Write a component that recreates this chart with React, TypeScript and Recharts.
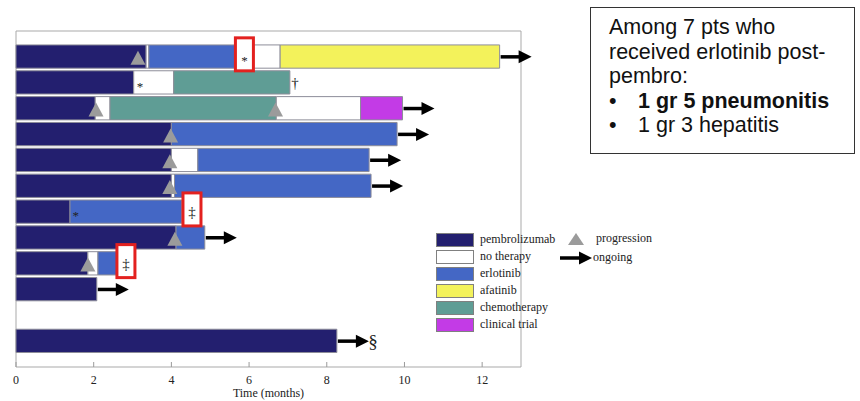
import React from 'react';
import {
  ComposedChart,
  Bar,
  Cell,
  Scatter,
  XAxis,
  YAxis,
  ReferenceArea
} from 'recharts';

// treatment categories and their colours
const treatments = ['pembrolizumab', 'no therapy', 'erlotinib', 'afatinib', 'chemotherapy', 'clinical trial'];
const treatmentColors = ['#231f6f', '#ffffff', '#4467c5', '#f3f25b', '#5f9d95', '#c33be6'];

// one entry per patient (row 11 is left empty)
const rows = [1, 2, 3, 4, 5, 6, 7, 8, 9, 10, 12];

// treatment phase sequence per patient (index into treatments)
const phaseTypes = [
  [0, 1, 2, 1, 3],
  [0, 1, 4],
  [0, 1, 4, 1, 5],
  [0, 2],
  [0, 1, 2],
  [0, 1, 2],
  [0, 2],
  [0, 2],
  [0, 1, 2],
  [0],
  [0]
];

// end time (months) of each phase
const phaseEnds = [
  [3.35, 3.42, 5.65, 6.8, 12.45],
  [3.03, 4.06, 7.05],
  [2.04, 2.42, 6.7, 8.87, 9.95],
  [4.0, 9.81],
  [4.0, 4.68, 9.09],
  [4.0, 4.08, 9.14],
  [1.39, 4.27],
  [4.12, 4.86],
  [1.85, 2.11, 2.6],
  [2.08],
  [8.26]
];

const ongoingRows = [1, 3, 4, 5, 6, 8, 10, 12];

const progressionRows = [1, 3, 3, 4, 5, 6, 8, 9];
const progressionTimes = [3.14, 2.06, 6.68, 3.98, 3.96, 3.96, 4.09, 1.85];

const noteRows = [1, 2, 2, 7, 7, 9, 12];
const noteTimes = [5.88, 3.19, 7.18, 1.54, 4.53, 2.83, 9.19];
const noteSymbols = ['*', '*', '†', '*', '‡', '‡', '§'];
const noteBoxed = [true, false, false, false, true, true, false];

const xTicks = [0, 2, 4, 6, 8, 10, 12];

const maxPhases = Math.max(...phaseEnds.map((p) => p.length));
const segKeys = Array.from({ length: maxPhases }, (_, k) => `s${k}`);

const barData = rows.map((row, i) => {
  const entry: any = { row };
  phaseEnds[i].forEach((end, k) => {
    entry[`s${k}`] = end - (k ? phaseEnds[i][k - 1] : 0);
  });
  return entry;
});

const ongoingData = ongoingRows.map((row) => {
  const ends = phaseEnds[rows.indexOf(row)];
  return { row, t: ends[ends.length - 1] };
});

const progressionData = progressionRows.map((row, i) => ({ row, t: progressionTimes[i] }));

const noteData = noteRows.map((row, i) => ({
  row,
  t: noteTimes[i],
  sym: noteSymbols[i],
  boxed: noteBoxed[i]
}));

const serif = '"Liberation Serif", "Times New Roman", serif';

const BottomTick = (props: any) => {
  const { x, y, payload } = props;
  return (
    <g>
      <line x1={x} x2={x} y1={y} y2={y - 5} stroke="#9a9a9a" />
      <text x={x} y={y + 17} textAnchor="middle" fontFamily={serif} fontSize={12} fill="#222">
        {payload.value}
      </text>
    </g>
  );
};

const Triangle = (p: any) => (
  <polygon
    points={`${p.cx},${p.cy - 6} ${p.cx - 7.5},${p.cy + 8} ${p.cx + 7.5},${p.cy + 8}`}
    fill="#9b9b9b"
  />
);

const Arrow = (p: any) => {
  const x0 = p.cx + 1;
  const x1 = p.cx + 32;
  return (
    <g>
      <line x1={x0} y1={p.cy} x2={x1 - 10} y2={p.cy} stroke="#000" strokeWidth={3.5} />
      <polygon points={`${x1},${p.cy} ${x1 - 13},${p.cy - 6.5} ${x1 - 13},${p.cy + 6.5}`} fill="#000" />
    </g>
  );
};

const Note = (p: any) => {
  const { cx, cy, payload } = p;
  const sym = payload.sym;
  const size = sym === '§' ? 19 : sym === '*' ? 13 : 15;
  const dy = sym === '*' ? 8 : sym === '§' ? 7 : 5;
  return (
    <g>
      {payload.boxed && (
        <rect x={cx - 9} y={cy - 19} width={18} height={33} fill="#fff" stroke="#e3211f" strokeWidth={3} />
      )}
      <text x={cx} y={cy + dy} textAnchor="middle" fontFamily={serif} fontSize={size} fill="#222">
        {sym}
      </text>
    </g>
  );
};

const LegendArrow = () => (
  <svg width={34} height={14} style={{ display: 'block' }}>
    <line x1={1} y1={7} x2={22} y2={7} stroke="#000" strokeWidth={3.5} />
    <polygon points="33,7 20,0.5 20,13.5" fill="#000" />
  </svg>
);

const App: React.FC = () => {
  return (
    <div style={{ position: 'absolute', left: 0, top: 0, width: 860, height: 401, background: '#fff', overflow: 'hidden' }}>
      <ComposedChart
        width={545}
        height={401}
        layout="vertical"
        data={barData}
        margin={{ top: 31, right: 24, bottom: 0, left: 16 }}
      >
        <XAxis
          type="number"
          dataKey="t"
          domain={[0, 13]}
          ticks={xTicks}
          interval={0}
          height={34}
          axisLine={false}
          tickLine={false}
          tickSize={0}
          tickMargin={0}
          tick={<BottomTick />}
          label={{
            value: 'Time (months)',
            position: 'insideBottom',
            offset: 4,
            style: { fontFamily: serif, fontSize: 12, fill: '#222' }
          }}
        />
        <XAxis
          xAxisId="top"
          orientation="top"
          type="number"
          domain={[0, 13]}
          ticks={xTicks}
          interval={0}
          mirror
          tick={false}
          axisLine={false}
          tickLine={{ stroke: '#9a9a9a' }}
          tickSize={4}
        />
        <YAxis type="number" dataKey="row" domain={[0, 13]} hide />
        <ReferenceArea x1={0} x2={13} y1={0} y2={13} fill="none" stroke="#a9a9a9" strokeWidth={1} />
        {segKeys.map((key, k) => (
          <Bar key={key} dataKey={key} stackId="a" barSize={26} isAnimationActive={false}>
            {barData.map((_, i) => (
              <Cell
                key={`c-${k}-${i}`}
                fill={treatmentColors[phaseTypes[i][k] ?? 0]}
                stroke="#8d8d99"
                strokeWidth={1}
              />
            ))}
          </Bar>
        ))}
        <Scatter data={progressionData} shape={<Triangle />} isAnimationActive={false} />
        <Scatter data={ongoingData} shape={<Arrow />} isAnimationActive={false} />
        <Scatter data={noteData} shape={<Note />} isAnimationActive={false} />
      </ComposedChart>

      {/* legend */}
      <div style={{ position: 'absolute', left: 436, top: 231, fontFamily: serif, fontSize: 12, color: '#222' }}>
        {treatments.map((name, i) => (
          <div key={name} style={{ display: 'flex', alignItems: 'center', height: 17 }}>
            <div
              style={{
                width: 36,
                height: 12,
                background: treatmentColors[i],
                border: '1px solid #808080',
                marginRight: 6
              }}
            />
            <span>{name}</span>
          </div>
        ))}
      </div>
      <div style={{ position: 'absolute', left: 566, top: 230, fontFamily: serif, fontSize: 12, color: '#222' }}>
        <div style={{ display: 'flex', alignItems: 'center', height: 17 }}>
          <svg width={20} height={14} style={{ display: 'block', marginRight: 10 }}>
            <polygon points="10,1 2,13 18,13" fill="#9b9b9b" />
          </svg>
          <span>progression</span>
        </div>
      </div>
      <div style={{ position: 'absolute', left: 559, top: 249, fontFamily: serif, fontSize: 12, color: '#222' }}>
        <div style={{ display: 'flex', alignItems: 'center', height: 17 }}>
          <LegendArrow />
          <span>ongoing</span>
        </div>
      </div>

      {/* annotation box */}
      <div
        style={{
          position: 'absolute',
          left: 590,
          top: 7,
          width: 265,
          height: 147,
          border: '1.5px solid #333',
          boxSizing: 'border-box',
          padding: '7px 0 0 18px',
          fontFamily: '"Liberation Sans", Arial, sans-serif',
          fontSize: 21.5,
          lineHeight: '24.5px',
          color: '#111'
        }}
      >
        <div>Among 7 pts who</div>
        <div>received erlotinib post-</div>
        <div>pembro:</div>
        <div style={{ display: 'flex' }}>
          <span style={{ width: 29 }}>•</span>
          <b>1 gr 5 pneumonitis</b>
        </div>
        <div style={{ display: 'flex' }}>
          <span style={{ width: 29 }}>•</span>
          <span>1 gr 3 hepatitis</span>
        </div>
      </div>
    </div>
  );
};

export default App;
